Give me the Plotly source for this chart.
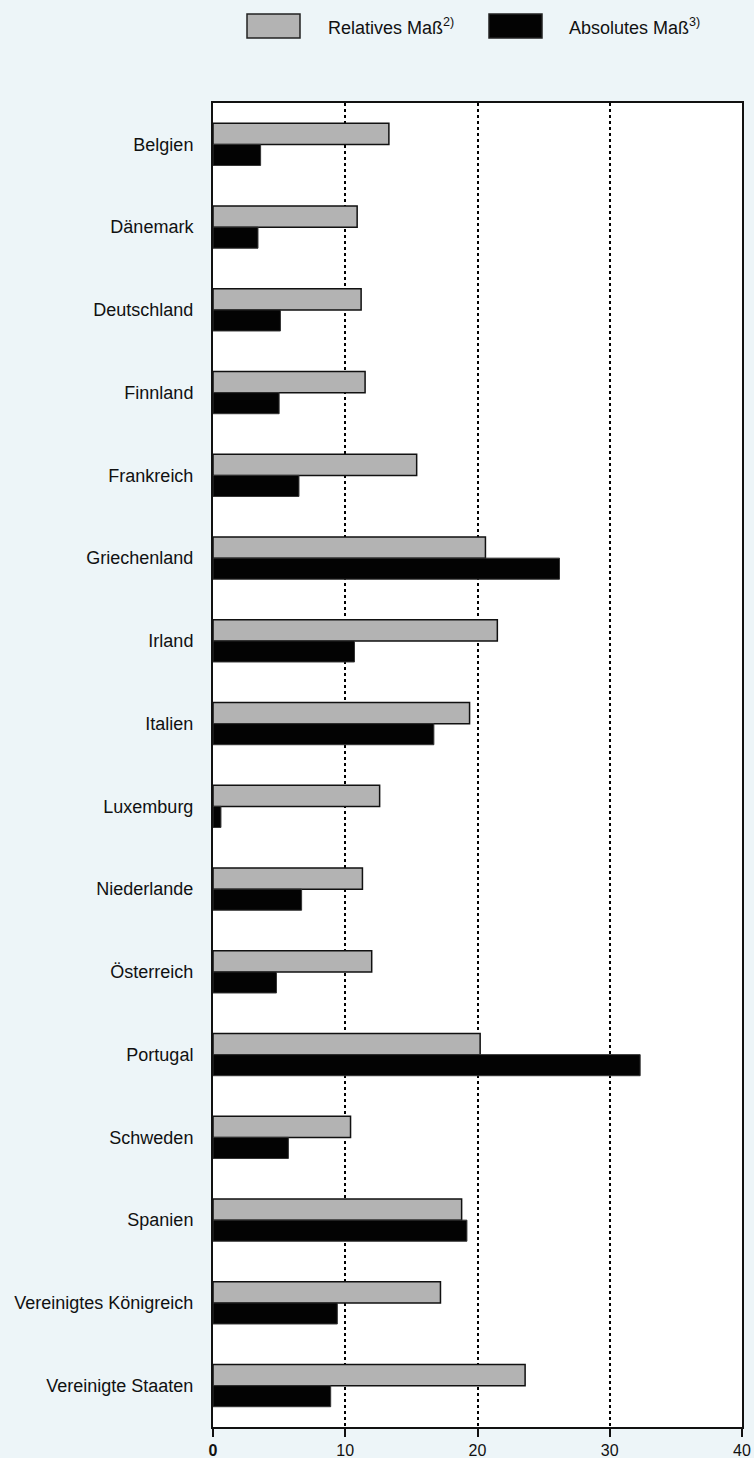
import plotly.graph_objects as go

countries = ["Belgien", "Dänemark", "Deutschland", "Finnland", "Frankreich",
             "Griechenland", "Irland", "Italien", "Luxemburg", "Niederlande",
             "Österreich", "Portugal", "Schweden", "Spanien",
             "Vereinigtes Königreich", "Vereinigte Staaten"]
relatives = [13.3, 10.9, 11.2, 11.5, 15.4, 20.6, 21.5, 19.4, 12.6, 11.3,
             12.0, 20.2, 10.4, 18.8, 17.2, 23.6]
absolutes = [3.6, 3.4, 5.1, 5.0, 6.5, 26.2, 10.7, 16.7, 0.6, 6.7,
             4.8, 32.3, 5.7, 19.2, 9.4, 8.9]
series_names = ["Relatives Maß<sup>2)</sup>", "Absolutes Maß<sup>3)</sup>"]
x_ticks = [0, 10, 20, 30, 40]
x_ticktext = ["<b>0</b>", "10", "20", "30", "40"]

BG = "#edf5f8"
FONT = "Liberation Sans, Arial, Helvetica, sans-serif"

fig = go.Figure()
fig.add_trace(go.Bar(y=countries, x=relatives, orientation="h", name=series_names[0],
                     marker=dict(color="#b3b3b3", line=dict(color="#111111", width=1.5))))
fig.add_trace(go.Bar(y=countries, x=absolutes, orientation="h", name=series_names[1],
                     marker=dict(color="#030303", line=dict(color="#333333", width=1))))

# legend drawn as boxes + text
legend_items = [
    (247, 300, 326, "#b3b3b3", series_names[0]),
    (489, 542, 567, "#030303", series_names[1]),
]
W, H = 754, 1458
L, R, T, B = 213, 12, 103, 31
pw, ph = W - L - R, H - T - B
for x0, x1, tx, col, name in legend_items:
    fig.add_shape(type="rect", xref="paper", yref="paper",
                  x0=(x0 - L) / pw, x1=(x1 - L) / pw,
                  y0=(H - B - 38) / ph, y1=(H - B - 14) / ph,
                  fillcolor=col, line=dict(color="#222222", width=1.5))
    fig.add_annotation(xref="paper", yref="paper", x=(tx - L) / pw, y=(H - B - 27) / ph,
                       text=name, showarrow=False, xanchor="left", yanchor="middle",
                       font=dict(family=FONT, size=18, color="#111111"))

fig.update_layout(
    width=W, height=H,
    margin=dict(l=L, r=R, t=T, b=B, autoexpand=False),
    paper_bgcolor=BG, plot_bgcolor="white",
    barmode="group", bargap=0.49, bargroupgap=0,
    showlegend=False,
    font=dict(family=FONT, size=18, color="#111111"),
)
fig.update_xaxes(range=[0, 40], tickvals=x_ticks, ticktext=x_ticktext,
                 ticks="outside", ticklen=8, tickwidth=1.5, tickcolor="#111111",
                 showgrid=True, gridcolor="#000000", griddash="dot", gridwidth=1.5,
                 showline=True, linecolor="#111111", linewidth=2, mirror=True,
                 zeroline=False, tickfont=dict(size=16), automargin=False)
fig.update_yaxes(autorange="reversed", showgrid=False, ticks="",
                 showline=True, linecolor="#111111", linewidth=2, mirror=True,
                 ticklabelstandoff=14, tickfont=dict(size=18), automargin=False)

fig.write_html("out.html", config={"displayModeBar": False},
               post_script="document.body.style.margin='0px';"
                           "document.body.style.overflow='hidden';"
                           "document.documentElement.style.overflow='hidden';")
